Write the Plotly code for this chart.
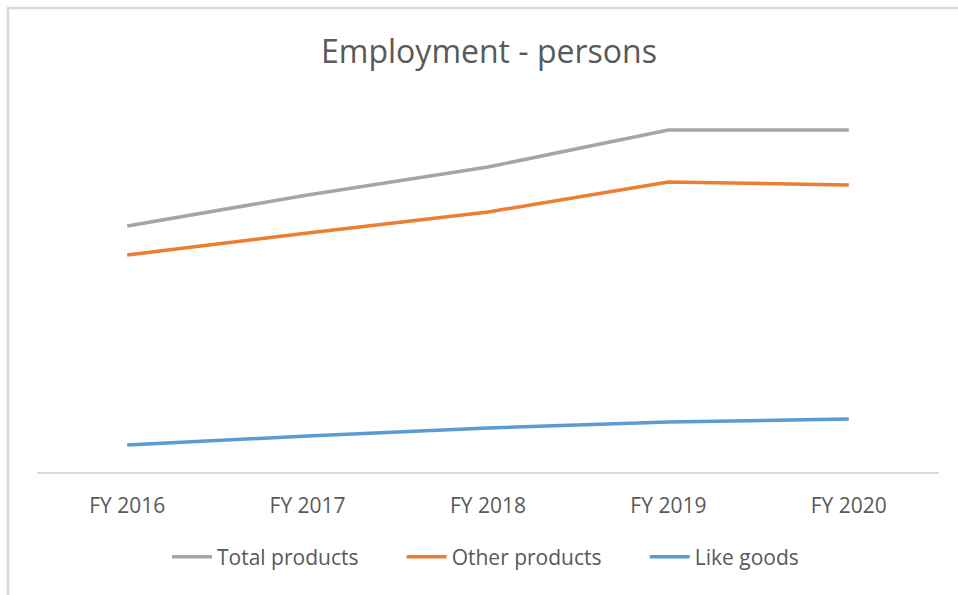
import plotly.graph_objects as go

categories = ["FY 2016", "FY 2017", "FY 2018", "FY 2019", "FY 2020"]
total_products = [246, 277, 305, 342, 342]
other_products = [217, 239, 260, 290, 287]
like_goods = [27, 36, 44, 50, 53]
series_names = ["Total products", "Other products", "Like goods"]

W, H = 958, 595
ML, MR, MT, MB = 37, 19, 100, 123
pw, ph = W - ML - MR, H - MT - MB

pad = "\u00a0" * 7
fig = go.Figure()
fig.add_trace(go.Scatter(x=categories, y=total_products, name=series_names[0] + pad, mode="lines",
                         line=dict(color="#A5A5A5", width=3.5)))
fig.add_trace(go.Scatter(x=categories, y=other_products, name=series_names[1] + pad, mode="lines",
                         line=dict(color="#ED7D31", width=3.5)))
fig.add_trace(go.Scatter(x=categories, y=like_goods, name=series_names[2], mode="lines",
                         line=dict(color="#5B9BD5", width=3.5)))

font_family = "Open Sans, Liberation Sans, sans-serif"
fig.update_layout(
    width=W, height=H,
    margin=dict(l=ML, r=MR, t=MT, b=MB, autoexpand=False),
    paper_bgcolor="white", plot_bgcolor="white",
    title=dict(text="Employment - persons", x=489 / W, xanchor="center",
               y=1 - 52 / H, yanchor="middle",
               font=dict(family=font_family, size=32, color="#595959")),
    xaxis=dict(range=[-0.5, len(categories) - 0.5], showgrid=False, showline=True,
               linecolor="#D9D9D9", linewidth=1.5,
               ticks="", ticklabelstandoff=14, zeroline=False, automargin=False,
               tickfont=dict(family=font_family, size=21, color="#595959")),
    yaxis=dict(range=[0, ph], showgrid=False, showticklabels=False, zeroline=False,
               showline=False, ticks="", automargin=False),
    showlegend=True,
    legend=dict(orientation="h", x=(485.5 - ML) / pw, xanchor="center",
                y=(472 - 557) / ph, yanchor="middle",
                font=dict(family=font_family, size=21, color="#595959"),
                traceorder="normal", itemwidth=40),
    shapes=[dict(type="rect", xref="paper", yref="paper",
                 x0=(8 - ML) / pw, x1=(975 - ML) / pw,
                 y0=(472 - 620) / ph, y1=(472 - 8) / ph,
                 line=dict(color="#D9D9D9", width=2.5), fillcolor="rgba(0,0,0,0)",
                 layer="below")],
)

fig.write_html("out.html")
